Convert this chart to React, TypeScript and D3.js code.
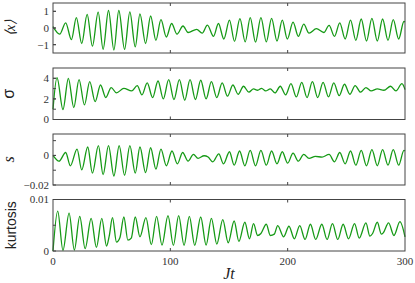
import React from "react";
import * as d3 from "d3";

const width = 415;
const height = 283;
const left = 53;
const right = 405;
const green = "#169a16";

const xTicks = [0, 100, 200, 300];

// extrema: [Jt, value]
const meanX = [
  [0, 0.08], [5.7, -0.37], [10.8, 0.31], [15.7, -0.7], [19.9, 0.62], [24.5, -0.93],
  [29.1, 0.82], [33.6, -1.09], [38.5, 0.95], [42.7, -1.28], [47.3, 1.05], [51.9, -1.32],
  [56.1, 1.05], [61.0, -1.28], [65.5, 0.97], [70.1, -1.13], [74.1, 0.85], [78.9, -0.93],
  [83.2, 0.72], [87.7, -0.74], [92.0, 0.5], [96.6, -0.54], [101.1, 0.27], [105.7, -0.37],
  [110.8, 0.12], [115.1, -0.27], [122.5, -0.08], [127.1, -0.31], [131.6, 0.17], [136.8, -0.5],
  [141.0, 0.27], [145.6, -0.66], [150.4, 0.47], [154.7, -0.8], [159.3, 0.56], [163.8, -0.83],
  [168.1, 0.62], [172.6, -0.85], [177.2, 0.62], [181.8, -0.83], [186.3, 0.58], [190.9, -0.78],
  [195.4, 0.47], [199.7, -0.66], [204.6, 0.35], [209.1, -0.5], [213.7, 0.23], [218.2, -0.31],
  [224.5, -0.04], [230.8, -0.27], [235.3, 0.16], [239.9, -0.5], [244.4, 0.31], [249.0, -0.66],
  [253.6, 0.47], [258.1, -0.74], [262.7, 0.54], [267.2, -0.78], [271.8, 0.58], [276.4, -0.78],
  [280.9, 0.54], [285.5, -0.74], [290.0, 0.5], [294.6, -0.66], [299.1, 0.39], [300, 0.37],
];

const sigma = [
  [0, 1.0], [3.4, 4.06], [8.5, 0.97], [13.1, 4.0], [17.7, 1.16], [22.2, 3.87],
  [26.8, 1.42], [31.3, 3.68], [35.9, 1.74], [40.5, 3.35], [45.0, 2.13], [49.6, 3.1],
  [54.1, 2.58], [60.4, 3.03], [67.0, 2.77], [71.8, 3.29], [75.8, 2.39], [80.3, 3.55],
  [84.9, 2.13], [89.5, 3.74], [94.0, 2.0], [98.6, 3.87], [103.1, 1.94], [107.7, 3.87],
  [112.3, 1.87], [116.8, 3.87], [121.4, 1.94], [125.9, 3.81], [130.5, 2.0], [135.0, 3.68],
  [139.6, 2.13], [144.2, 3.55], [148.7, 2.26], [153.3, 3.35], [157.8, 2.45], [162.4, 3.23],
  [166.9, 2.65], [170.9, 2.97], [174.4, 2.84], [177.8, 3.03], [181.2, 2.77], [185.2, 2.97],
  [189.2, 2.58], [193.7, 3.23], [198.3, 2.39], [202.8, 3.48], [207.4, 2.19], [212.0, 3.61],
  [216.5, 2.13], [221.1, 3.68], [225.6, 2.13], [230.2, 3.61], [234.8, 2.19], [239.3, 3.55],
  [243.9, 2.32], [248.4, 3.42], [253.0, 2.45], [257.5, 3.29], [262.1, 2.65], [266.7, 3.1],
  [271.2, 2.77], [276.4, 2.97], [282.1, 2.84], [287.7, 3.23], [292.3, 2.77], [297.4, 3.48],
  [300, 2.9],
];

const skew = [
  [0, 0], [5.1, -3.9], [10.8, 2.0], [14.8, -7.0], [20.5, 4.3], [24.5, -9.8],
  [29.6, 5.7], [33.6, -12.0], [38.7, 6.6], [42.7, -13.0], [47.3, 6.6], [51.9, -13.9],
  [56.4, 6.6], [61.0, -13.4], [65.5, 6.6], [70.1, -12.0], [74.1, 5.7], [78.9, -11.6],
  [83.2, 5.2], [87.7, -9.3], [92.0, 4.3], [96.6, -7.0], [101.4, 3.0], [106.0, -5.7],
  [110.5, 2.0], [115.1, -3.9], [119.7, 0.7], [123.6, -2.0], [128.8, -0.2], [132.2, -1.1],
  [136.2, -4.3], [141.3, 1.1], [145.3, -5.7], [150.4, 2.5], [154.4, -6.6], [159.0, 3.0],
  [163.5, -7.0], [168.1, 3.4], [172.6, -7.0], [177.2, 3.4], [181.8, -6.6], [186.3, 3.0],
  [190.9, -5.7], [195.4, 2.5], [200.0, -5.2], [204.6, 1.6], [209.1, -3.9], [213.7, 0.7],
  [218.2, -2.0], [223.6, -0.7], [229.3, -1.1], [235.3, 0.7], [239.9, -4.3], [244.4, 2.0],
  [249.0, -5.7], [253.6, 3.0], [258.1, -6.6], [262.7, 3.4], [267.2, -7.0], [271.8, 3.9],
  [276.4, -7.0], [280.9, 3.9], [285.5, -6.6], [290.0, 3.9], [294.6, -6.6], [299.1, 3.4],
  [300, 3.0],
]; // x 1e-3

const kurt = [
  [0, 0], [4.0, 7.76], [8.5, 0.13], [13.7, 7.37], [18.2, 0.19], [22.8, 6.73],
  [27.4, 0.45], [32.5, 6.35], [37.0, 0.71], [41.6, 6.35], [45.6, 0.96], [47.9, 2.88],
  [50.7, 6.47], [54.1, 1.73], [57.0, 2.56], [60.4, 6.6], [63.8, 2.12], [66.7, 2.5],
  [70.1, 6.6], [74.1, 2.76], [79.2, 6.47], [83.8, 1.22], [88.3, 6.73], [92.9, 1.15],
  [98.0, 6.86], [102.6, 1.1], [107.1, 6.86], [111.7, 1.1], [116.2, 6.73], [120.8, 1.1],
  [125.9, 6.6], [130.5, 1.15], [135.0, 6.35], [139.6, 1.35], [144.7, 6.09], [149.3, 1.6],
  [154.4, 5.83], [158.4, 1.86], [163.5, 5.58], [167.5, 2.37], [170.9, 5.32], [174.4, 3.01],
  [177.2, 3.4], [181.8, 5.19], [185.2, 3.01], [188.6, 3.27], [191.5, 4.94], [196.6, 2.76],
  [201.1, 4.81], [205.7, 2.37], [210.3, 4.94], [214.8, 2.24], [219.4, 5.19], [223.9, 2.24],
  [229.1, 5.19], [233.6, 2.24], [238.2, 5.32], [242.7, 2.24], [247.3, 5.19], [251.9, 2.37],
  [257.0, 5.32], [261.0, 2.5], [266.7, 5.45], [270.1, 2.88], [272.4, 3.4], [276.4, 5.58],
  [279.8, 3.27], [281.5, 3.53], [286.0, 5.45], [290.6, 3.01], [295.7, 5.71], [300, 2.76],
]; // x 1e-3

const fmt = (v: number) => (v < 0 ? "\u2212" + Math.abs(v) : String(v));

const panels = [
  {
    top: 3, bottom: 53, domain: [-1.5, 1.5], scale: 1, data: meanX,
    ticks: [-1, 0, 1], labels: [-1, 0, 1],
    title: "\u27e8x\u27e9", font: "Liberation Serif", italic: true, size: 14, tx: 15,
  },
  {
    top: 68, bottom: 119.5, domain: [0, 5], scale: 1, data: sigma,
    ticks: [1, 2, 3, 4], labels: [0, 2, 4],
    title: "\u03c3", font: "Liberation Sans", italic: false, size: 16, tx: 14,
  },
  {
    top: 134, bottom: 185, domain: [-0.02, 0.0145], scale: 1e-3, data: skew,
    ticks: [-0.01, 0, 0.01], labels: [-0.02, 0],
    title: "s", font: "Liberation Serif", italic: true, size: 16, tx: 14,
  },
  {
    top: 199.5, bottom: 251, domain: [0, 0.01], scale: 1e-3, data: kurt,
    ticks: [0.005], labels: [0, 0.01],
    title: "kurtosis", font: "Liberation Sans", italic: false, size: 14, tx: 16,
  },
];

const x = d3.scaleLinear().domain([0, 300]).range([left, right]);

const App = () => {
  return (
    <svg
      width={width}
      height={height}
      style={{ position: "absolute", left: 0, top: 0, background: "#fff" }}
    >
      {panels.map((p, i) => {
        const y = d3.scaleLinear().domain(p.domain).range([p.bottom, p.top]);
        const line = d3
          .line<number[]>()
          .x((d) => x(d[0]))
          .y((d) => y(d[1] * p.scale))
          .curve(d3.curveMonotoneX);
        return (
          <g key={i}>
            <path d={line(p.data) ?? ""} fill="none" stroke={green} strokeWidth={1.3} />
            <rect
              x={left}
              y={p.top}
              width={right - left}
              height={p.bottom - p.top}
              fill="none"
              stroke="#444"
              strokeWidth={1}
            />
            {/* inward ticks */}
            {xTicks.slice(1, 3).map((t) => (
              <g key={t} stroke="#444">
                <line x1={x(t)} x2={x(t)} y1={p.bottom} y2={p.bottom - 3} />
                <line x1={x(t)} x2={x(t)} y1={p.top} y2={p.top + 3} />
              </g>
            ))}
            {p.ticks.concat(p.labels).map((t, j) => (
              <line key={"t" + j} x1={left} x2={left + 3} y1={y(t)} y2={y(t)} stroke="#444" />
            ))}
            {p.labels.map((t) => (
              <text
                key={t}
                x={left - 4}
                y={y(t)}
                dy="0.35em"
                textAnchor="end"
                fontFamily="Liberation Serif"
                fontSize={11}
                fill="#333"
              >
                {fmt(t)}
              </text>
            ))}
            <text
              transform={`translate(${p.tx},${(p.top + p.bottom) / 2}) rotate(-90)`}
              textAnchor="middle"
              fontFamily={p.font}
              fontStyle={p.italic ? "italic" : "normal"}
              fontSize={p.size}
              fill="#222"
            >
              {p.title}
            </text>
          </g>
        );
      })}
      {xTicks.map((t) => (
        <text
          key={t}
          x={x(t)}
          y={265}
          textAnchor="middle"
          fontFamily="Liberation Serif"
          fontSize={11}
          fill="#333"
        >
          {t}
        </text>
      ))}
      <text
        x={(left + right) / 2}
        y={279}
        textAnchor="middle"
        fontFamily="Liberation Serif"
        fontStyle="italic"
        fontSize={16}
        fill="#222"
      >
        Jt
      </text>
    </svg>
  );
};

export default App;
